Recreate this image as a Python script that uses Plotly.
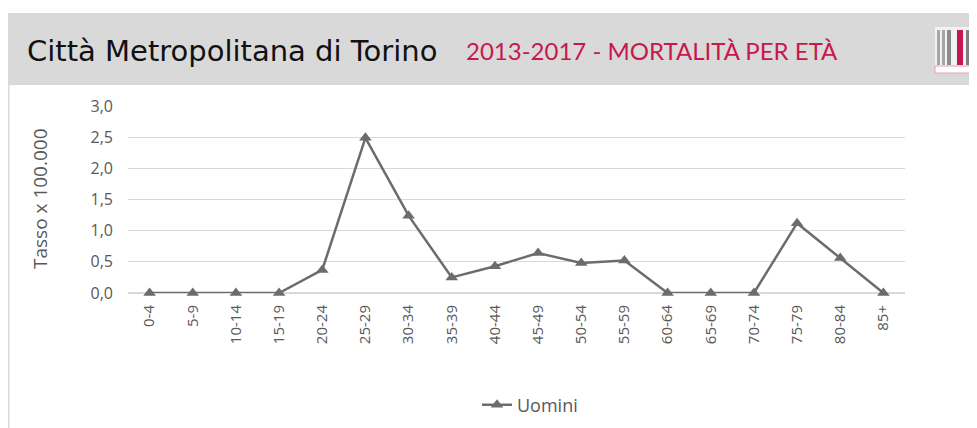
import plotly.graph_objects as go

# data
age_groups = ["0-4", "5-9", "10-14", "15-19", "20-24", "25-29", "30-34", "35-39", "40-44",
              "45-49", "50-54", "55-59", "60-64", "65-69", "70-74", "75-79", "80-84", "85+"]
uomini = [0, 0, 0, 0, 0.37, 2.49, 1.24, 0.25, 0.43, 0.64, 0.48, 0.52, 0, 0, 0, 1.12, 0.56, 0]
y_ticks = [0, 0.5, 1.0, 1.5, 2.0, 2.5, 3.0]
y_ticklabels = ["0,0", "0,5", "1,0", "1,5", "2,0", "2,5", "3,0"]

# page body adds an 8px offset, so the figure is laid out in page pixels minus 8
OFF = 8
W, H = 977 - OFF, 428 - OFF
ML, MR, MT, MB = 128 - OFF, 977 - 905, 106 - OFF, 428 - 293
PW, PH = W - ML - MR, H - MT - MB


def px(x):
    return (x - OFF - ML) / PW


def py(y):
    return (H - MB - (y - OFF)) / PH


GRAY = "#595959"
LINE = "#6e6b6b"

fig = go.Figure()
fig.add_trace(go.Scatter(
    x=age_groups, y=uomini, mode="lines+markers", name="Uomini",
    line=dict(color=LINE, width=2.5),
    marker=dict(symbol="triangle-up", size=11, color=LINE),
    cliponaxis=False,
))

shapes = [
    # header band
    dict(type="rect", xref="paper", yref="paper", x0=px(5), x1=px(977), y0=py(85), y1=py(13),
         fillcolor="#d9d9d9", line=dict(width=0), layer="below"),
    # left border line
    dict(type="line", xref="paper", yref="paper", x0=px(8.5), x1=px(8.5), y0=py(428), y1=py(85),
         line=dict(color="#d9d9d9", width=2)),
    # logo base
    dict(type="rect", xref="paper", yref="paper", x0=px(935), x1=px(977), y0=py(73), y1=py(27),
         fillcolor="#f2f2f2", line=dict(width=0)),
    dict(type="rect", xref="paper", yref="paper", x0=px(935), x1=px(977), y0=py(73), y1=py(66),
         fillcolor="white", line=dict(color="#e8a0b5", width=1)),
]
for x0, x1, col in [(937, 940, "#a6a6a6"), (942, 945, "#a6a6a6"), (947, 951, "#8c8c8c"),
                    (957, 963, "#c8174f"), (966, 977, "#7f7f7f")]:
    shapes.append(dict(type="rect", xref="paper", yref="paper", x0=px(x0), x1=px(x1),
                       y0=py(65), y1=py(30), fillcolor=col, line=dict(width=0)))

annotations = [
    dict(text="Città Metropolitana di Torino", xref="paper", yref="paper", x=px(25), y=py(51),
         xanchor="left", yanchor="middle", showarrow=False,
         font=dict(family="DejaVu Sans", size=29, color="#111111")),
    dict(text="2013-2017 - MORTALITÀ PER ETÀ", xref="paper", yref="paper", x=px(464), y=py(51),
         xanchor="left", yanchor="middle", showarrow=False,
         font=dict(family="Lato", size=24, color="#c8174f")),
    dict(text="Tasso x 100.000", xref="paper", yref="paper", x=px(40), y=py(199),
         xanchor="center", yanchor="middle", showarrow=False, textangle=-90,
         font=dict(family="Open Sans", size=19, color=GRAY)),
]

fig.update_layout(
    width=W, height=H,
    margin=dict(l=ML, r=MR, t=MT, b=MB, autoexpand=False),
    paper_bgcolor="white", plot_bgcolor="white",
    font=dict(family="Open Sans", color=GRAY, size=15),
    shapes=shapes, annotations=annotations,
    showlegend=True,
    legend=dict(orientation="h", x=px(530), xanchor="center", y=py(405), yanchor="middle",
                font=dict(size=18, color=GRAY)),
    xaxis=dict(type="category", range=[-0.5, len(age_groups) - 0.5], tickangle=-90,
               tickfont=dict(size=15, color=GRAY), ticklabelstandoff=8,
               showgrid=False, showline=False, ticks="", automargin=False),
    yaxis=dict(range=[0, 3], tickvals=y_ticks, ticktext=y_ticklabels, automargin=False,
               gridcolor="#d9d9d9", gridwidth=1, zeroline=True, zerolinecolor="#d9d9d9",
               zerolinewidth=1.5, ticks="", ticklabelstandoff=14,
               tickfont=dict(size=16, color=GRAY)),
)

fig.write_html("out.html")
